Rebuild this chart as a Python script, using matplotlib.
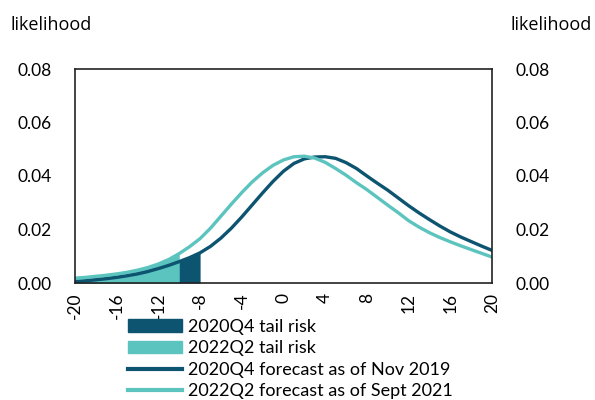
import matplotlib
matplotlib.use("Agg")
import matplotlib.pyplot as plt
import numpy as np
from matplotlib.patches import Patch
from matplotlib.lines import Line2D

plt.rcParams['font.family'] = ['Lato', 'DejaVu Sans']

growth = list(range(-20, 21))
dens_2020q4 = [0.0005, 0.0008, 0.0012, 0.0016, 0.0021, 0.0027, 0.0034, 0.0043, 0.0054, 0.0066,
               0.0080, 0.0095, 0.0113, 0.0137, 0.0168, 0.0205, 0.0247, 0.0292, 0.0337, 0.0380,
               0.0418, 0.0447, 0.0464, 0.0471, 0.0472, 0.0466, 0.0450, 0.0428, 0.0400, 0.0373,
               0.0347, 0.0318, 0.0289, 0.0262, 0.0237, 0.0213, 0.0191, 0.0172, 0.0155, 0.0138, 0.0122]
dens_2022q2 = [0.0018, 0.0021, 0.0025, 0.0029, 0.0034, 0.0040, 0.0048, 0.0058, 0.0071, 0.0088,
               0.0110, 0.0136, 0.0166, 0.0205, 0.0250, 0.0295, 0.0338, 0.0378, 0.0412, 0.0440,
               0.0460, 0.0472, 0.0474, 0.0467, 0.0451, 0.0428, 0.0403, 0.0375, 0.0349, 0.0320,
               0.0291, 0.0263, 0.0233, 0.0209, 0.0188, 0.0170, 0.0154, 0.0139, 0.0125, 0.0111, 0.0097]
tail_2020q4 = -8
tail_2022q2 = -10
xticks = list(range(-20, 21, 4))
yticks = [0.00, 0.02, 0.04, 0.06, 0.08]

dark = '#0d5470'
light = '#5cc4bf'

x = np.array(growth)
y1 = np.array(dens_2020q4)
y2 = np.array(dens_2022q2)

fig = plt.figure(figsize=(5.95, 4.0), dpi=100)
ax = fig.add_axes([75/595, 117/400, 417/595, 214/400])

ax.fill_between(x, 0, y1, where=x <= tail_2020q4, color=dark, lw=0)
ax.fill_between(x, 0, y2, where=x <= tail_2022q2, color=light, lw=0)
ax.plot(x, y1, color=dark, lw=2.4, solid_joinstyle='round')
ax.plot(x, y2, color=light, lw=2.4, solid_joinstyle='round')

ax.set_xlim(-20, 20)
ax.set_ylim(0, 0.08)
ax.set_xticks(xticks)
ax.set_xticklabels([str(v) for v in xticks], rotation=90, fontsize=12.5)
ax.set_yticks(yticks)
ax.set_yticklabels([f'{v:.2f}' for v in yticks], fontsize=12.5)
ax.tick_params(axis='both', length=0)
ax.tick_params(axis='y', pad=17, labelright=True, right=False)
ax.tick_params(axis='x', pad=7)
for s in ax.spines.values():
    s.set_color('#222222')
    s.set_linewidth(1.2)

fig.text(10/595, 1 - 25/400, 'likelihood', fontsize=13, va='center', ha='left',
         family=['Open Sans', 'DejaVu Sans'])
fig.text(592/595, 1 - 25/400, 'likelihood', fontsize=13, va='center', ha='right',
         family=['Open Sans', 'DejaVu Sans'])

handles = [Patch(color=dark), Patch(color=light),
           Line2D([], [], color=dark, lw=3), Line2D([], [], color=light, lw=3)]
labels = ['2020Q4 tail risk', '2022Q2 tail risk',
          '2020Q4 forecast as of Nov 2019', '2022Q2 forecast as of Sept 2021']
fig.legend(handles, labels, loc='upper left', bbox_to_anchor=(128/595, 1 - 319/400),
           frameon=False, fontsize=13, handlelength=3.0, handleheight=0.7,
           handletextpad=0.35, labelspacing=0.3, borderpad=0, borderaxespad=0)

fig.savefig('out.png', dpi=100)
